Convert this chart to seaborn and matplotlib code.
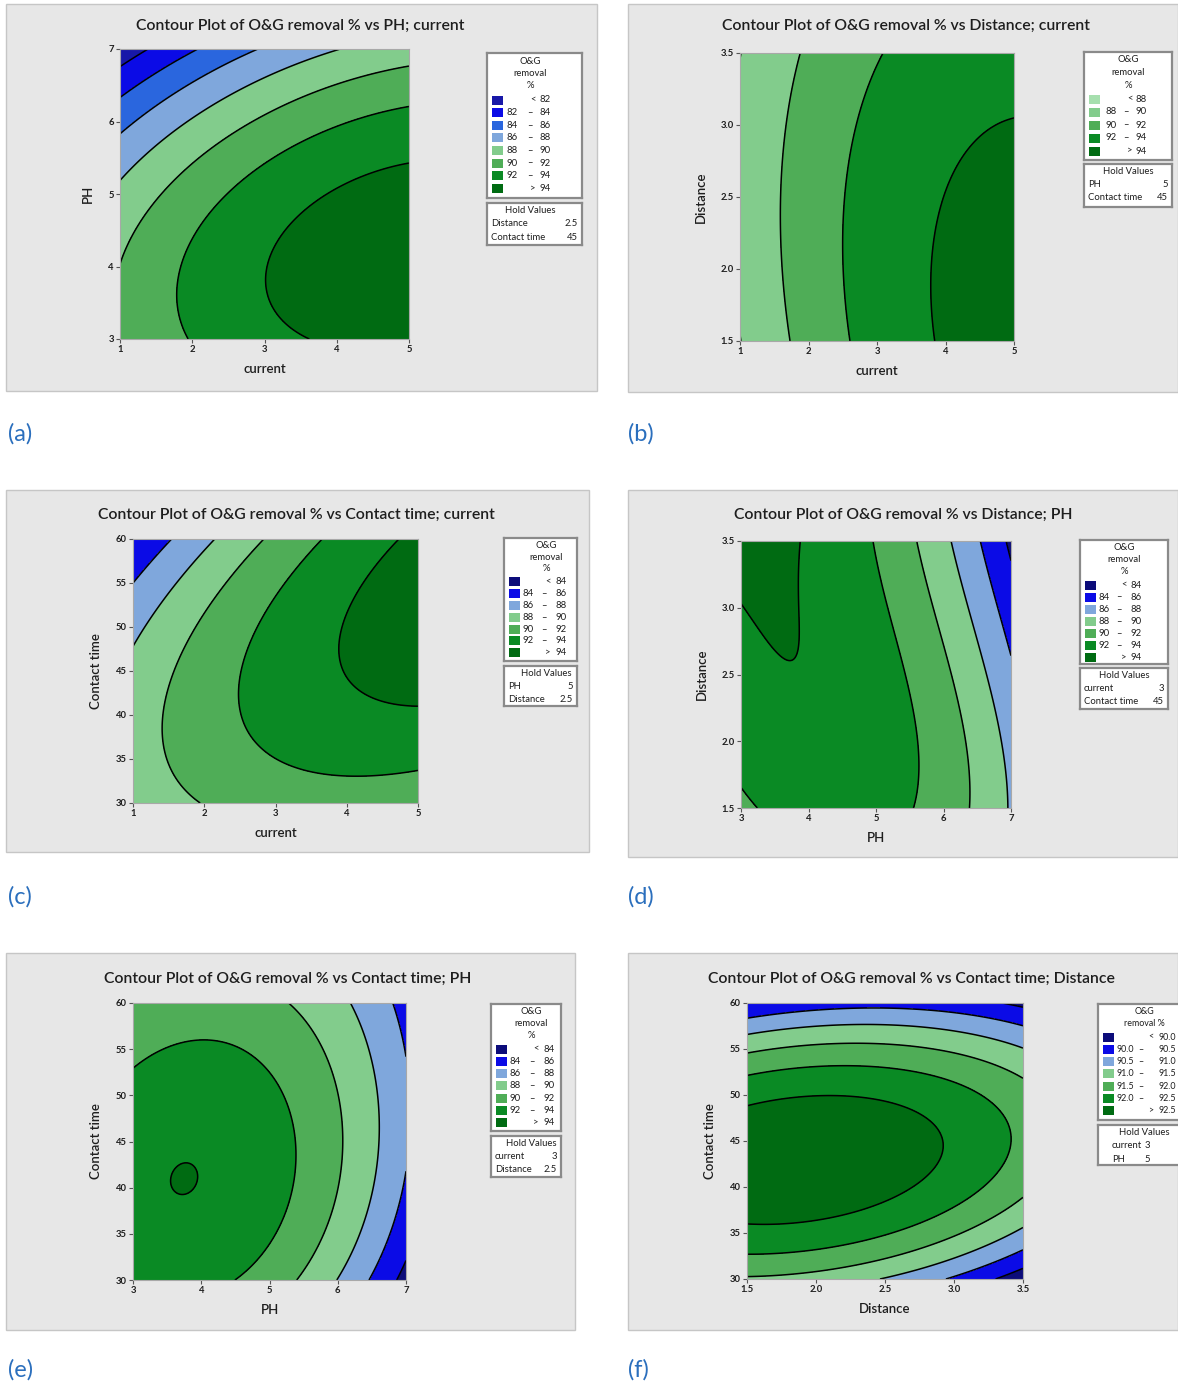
import numpy as np
import matplotlib
matplotlib.use("Agg")
import matplotlib.pyplot as plt
from matplotlib.patches import Rectangle
import seaborn as sns

sns.set_theme(style="white")
plt.rcParams['font.family'] = ['Lato', 'DejaVu Sans']

W, H = 1178, 1387

# ---- contour crossings: (x, y) -> removal level ----
# (a) PH vs current
a_current = [5, 4.37, 3.84, 3.36, 3.11, 3.74,
             5, 3.84, 3.05, 2.51, 1.98, 1.78, 1.89,
             1, 1.56, 2.25, 3.05, 4.11, 5,
             1, 1.98, 3.05, 4.0,
             1, 1.88, 2.87,
             1, 1.56, 2.09,
             1, 1.42, 1]
a_ph = [5.36, 5.27, 5.03, 4.52, 3.78, 3.0,
        6.21, 6.01, 5.69, 5.31, 4.48, 3.73, 3.0,
        4.04, 4.85, 5.50, 5.96, 6.48, 6.78,
        5.16, 5.96, 6.54, 7.0,
        5.82, 6.48, 7.0,
        6.34, 6.71, 7.0,
        6.78, 7.0, 7.0]
a_removal = [94] * 6 + [92] * 7 + [90] * 6 + [88] * 4 + [86] * 3 + [84] * 3 + [82] * 2 + [80.9]

# (b) Distance vs current
b_current = [1.88, 1.67, 1.61, 1.63, 1.72,
             3.12, 2.68, 2.53, 2.51, 2.61,
             5, 4.28, 3.97, 3.86, 3.81, 3.84,
             1, 1]
b_distance = [3.5, 3.0, 2.5, 2.0, 1.5,
              3.5, 3.0, 2.5, 2.0, 1.5,
              3.01, 2.87, 2.6, 2.25, 1.9, 1.5,
              3.48, 1.52]
b_removal = [90] * 5 + [92] * 5 + [94] * 6 + [88] * 2

# (c) Contact time vs current
c_current = [1.57, 1.0, 1.3,
             2.15, 1.57, 1.0,
             2.86, 2.31, 1.78, 1.49, 1.44, 1.57, 1.91,
             3.68, 3.15, 2.73, 2.54, 2.53, 2.62, 2.94, 3.63, 4.42, 5.0,
             4.66, 4.21, 4.0, 3.97, 4.08, 4.42, 5.0]
c_contact = [60, 55.2, 57.7,
             60, 54.2, 48.3,
             60, 55.0, 49.3, 42.9, 39.0, 34.2, 30,
             60, 56.1, 51.2, 46.6, 42.1, 38.3, 35.3, 33.0, 33.2, 33.5,
             60, 54.2, 49.7, 47.4, 44.0, 41.9, 41.2]
c_removal = [86] * 3 + [88] * 3 + [90] * 7 + [92] * 10 + [94] * 7

# (d) Distance vs PH
d_ph = [3.0, 3.39, 3.55, 3.71, 3.86, 3.92, 3.89, 3.86,
        4.96, 5.27, 5.48, 5.56, 5.58, 3.0, 3.21,
        5.60, 5.90, 6.22, 6.35, 6.38,
        6.10, 6.48, 6.74, 6.90, 6.95,
        6.53, 6.79, 7.0,
        6.95, 7.0]
d_distance = [3.01, 2.78, 2.71, 2.71, 2.78, 2.88, 3.13, 3.5,
              3.5, 2.88, 2.38, 1.89, 1.5, 1.67, 1.5,
              3.5, 2.88, 2.38, 1.89, 1.5,
              3.5, 2.88, 2.38, 1.89, 1.5,
              3.5, 2.88, 2.61,
              3.5, 3.37]
d_removal = [94] * 8 + [92] * 7 + [90] * 5 + [88] * 5 + [86] * 3 + [84] * 2

# (e) Contact time vs PH
e_ph = [3.52, 3.82, 3.67, 3.67, 3.67,
        3.0, 3.51, 4.10, 4.58, 5.07, 5.36, 5.34, 5.07, 4.49,
        5.31, 5.82, 6.06, 6.06, 5.87, 5.42, 3.05,
        6.19, 6.46, 6.58, 6.57, 6.41, 5.98,
        6.79, 7.0, 7.0, 6.44, 7.0,
        7.0, 6.87]
e_contact = [41.2, 41.2, 42.1, 39.8, 41.2,
             53.1, 55.3, 56.2, 55.3, 51.3, 45.2, 39.8, 35.1, 30,
             60, 53.9, 47.7, 43.4, 36.9, 30, 60,
             60, 54.9, 49.5, 42.3, 35.1, 30,
             60, 54.9, 42.3, 30, 48.6,
             32.5, 30]
e_removal = [94, 94, 94, 94, 94.05] + [92] * 9 + [90] * 7 + [88] * 6 + [86] * 4 + [86.35] + [84] * 2

# (f) Contact time vs Distance
f_distance = [1.5, 2.04, 2.91, 2.62, 2.16, 1.5,
              1.5, 1.98, 2.67, 3.18, 3.39, 3.31, 2.93, 2.16, 1.5,
              1.5, 2.16, 2.93, 3.5, 3.5, 2.93, 2.16, 1.5,
              1.5, 2.16, 2.93, 3.5, 3.5, 2.46,
              1.5, 2.5, 3.5, 3.5, 2.9,
              3.26, 3.5]
f_contact = [48.2, 49.9, 44.8, 40.4, 36.8, 36.2,
             52.6, 53.3, 52.0, 48.8, 45.0, 40.5, 36.2, 34.0, 32.7,
             54.8, 56.0, 55.0, 51.8, 39.2, 33.0, 31.0, 30.3,
             56.5, 57.5, 57.2, 55.3, 35.3, 30,
             58.3, 59.0, 57.8, 33.4, 30,
             30, 31.5]
f_removal = [92.5] * 6 + [92.0] * 9 + [91.5] * 8 + [91.0] * 6 + [90.5] * 5 + [90.0] * 2

# legend level boundaries
levels_a = [82, 84, 86, 88, 90, 92, 94]
levels_b = [88, 90, 92, 94]
levels_cde = [84, 86, 88, 90, 92, 94]
levels_f = [90.0, 90.5, 91.0, 91.5, 92.0, 92.5]

NAVY, BLUE, MIDBLUE, LBLUE = '#0c0c7a', '#0b0be6', '#2a66de', '#7fa7dc'
PALE, LGREEN, MGREEN, DGREEN, XGREEN = '#a6dfae', '#82cc8c', '#4fad57', '#0a8a24', '#006b12'
cols_a = ['#1818a8', BLUE, MIDBLUE, LBLUE, LGREEN, MGREEN, DGREEN, XGREEN]
cols_b = [PALE, LGREEN, MGREEN, DGREEN, XGREEN]
cols_cde = [NAVY, BLUE, LBLUE, LGREEN, MGREEN, DGREEN, XGREEN]

TXT = '#1e1e1e'
fig = plt.figure(figsize=(W / 100, H / 100), dpi=100)


def px_axes(x0, y0, x1, y1):
    return fig.add_axes([x0 / W, 1 - y1 / H, (x1 - x0) / W, (y1 - y0) / H])


def fit_surface(x, y, z, xr, yr, cubic=False):
    x = np.asarray(x, float)
    y = np.asarray(y, float)
    xm, xh = (xr[0] + xr[1]) / 2, (xr[1] - xr[0]) / 2
    ym, yh = (yr[0] + yr[1]) / 2, (yr[1] - yr[0]) / 2

    def design(xx, yy):
        u = (xx - xm) / xh
        v = (yy - ym) / yh
        terms = [np.ones_like(u), u, v, u * u, v * v, u * v]
        if cubic:
            terms += [u ** 3, v ** 3, u * u * v, u * v * v]
        return np.stack(terms, axis=-1)

    coef, *_ = np.linalg.lstsq(design(x, y), np.asarray(z, float), rcond=None)
    gx = np.linspace(xr[0], xr[1], 300)
    gy = np.linspace(yr[0], yr[1], 300)
    GX, GY = np.meshgrid(gx, gy)
    return GX, GY, design(GX, GY) @ coef


def fmt(v):
    return f"{v:.1f}" if isinstance(v, float) else str(v)


def boxed(x0, y0, x1, y1):
    b = px_axes(x0, y0, x1, y1)
    b.set_xlim(x0, x1)
    b.set_ylim(y1, y0)
    b.set_xticks([])
    b.set_yticks([])
    b.set_facecolor('white')
    for s in b.spines.values():
        s.set_color('#8a8a8a')
        s.set_linewidth(1.6)
    return b


def draw_panel(p):
    x0, y0, x1, y1 = p['panel']
    fig.patches.append(Rectangle((x0 / W, 1 - y1 / H), (x1 - x0) / W, (y1 - y0) / H,
                                 transform=fig.transFigure, facecolor='#e7e7e7',
                                 edgecolor='#c6c6c6', lw=1.0, zorder=-1))
    fig.text(p['label_xy'][0] / W, 1 - p['label_xy'][1] / H, p['label'],
             color='#2b6fbd', fontsize=17, ha='left', va='center')
    fig.text(p['title_xy'][0] / W, 1 - p['title_xy'][1] / H, p['title'],
             fontsize=11.3, fontweight='semibold', color=TXT, ha='center', va='center')

    ax = px_axes(*p['axes'])
    GX, GY, Z = fit_surface(p['x'], p['y'], p['z'], p['xr'], p['yr'], p.get('cubic', False))
    lv = p['levels']
    ax.contourf(GX, GY, Z, levels=[-1e9] + lv + [1e9], colors=p['colors'])
    ax.contour(GX, GY, Z, levels=lv, colors='black', linewidths=1.1)
    ax.set_xlim(*p['xr'])
    ax.set_ylim(*p['yr'])
    ax.set_xticks(p['xticks'])
    ax.set_yticks(p['yticks'])
    ax.set_xticklabels(p['xticklabels'])
    ax.set_yticklabels(p['yticklabels'])
    ax.tick_params(axis='both', direction='out', length=3, width=0.8, colors='#555555',
                   labelsize=6.8, labelcolor=TXT, pad=1.5, left=True, bottom=True)
    for t in ax.get_xticklabels() + ax.get_yticklabels():
        t.set_fontweight('bold')
    for s in ax.spines.values():
        s.set_color('#a8a8a8')
        s.set_linewidth(0.8)
    ax.set_xlabel(p['xlabel'], fontsize=9.5, fontweight='semibold', color=TXT, labelpad=6)
    ax.set_ylabel(p['ylabel'], fontsize=9.5, fontweight='semibold', color=TXT, labelpad=10)

    # legend box
    lx0, ly0, lx1, ly1 = p['legend']
    fs = p.get('legend_fs', 6.8)
    lg = boxed(lx0, ly0, lx1, ly1)
    cx = lx0 + p['title_cx']
    ty = ly0 + 8
    for line in p['legend_title']:
        lg.text(cx, ty, line, fontsize=fs, ha='center', va='center', color=TXT)
        ty += p['title_step']
    c1, cd, c3 = p['cols']
    ry = ly0 + p['row_start']
    n = len(p['colors'])
    for i, c in enumerate(p['colors']):
        lg.add_patch(Rectangle((lx0 + 5, ry - 4.5), 11, 9, facecolor=c, edgecolor='none'))
        if i == 0 or i == n - 1:
            sym = '<' if i == 0 else '>'
            val = lv[0] if i == 0 else lv[-1]
            lg.text(lx0 + p['sym_x'], ry, sym, fontsize=fs, ha='center', va='center', color=TXT)
            lg.text(lx0 + c3, ry, fmt(val), fontsize=fs, ha='right', va='center', color=TXT)
        else:
            lg.text(lx0 + c1, ry, fmt(lv[i - 1]), fontsize=fs, ha='right', va='center', color=TXT)
            lg.text(lx0 + cd, ry, '\u2013', fontsize=fs, ha='center', va='center', color=TXT)
            lg.text(lx0 + c3, ry, fmt(lv[i]), fontsize=fs, ha='right', va='center', color=TXT)
        ry += p['row_step']

    # hold values box
    hx0, hy0, hx1, hy1 = p['hold']
    hb = boxed(hx0, hy0, hx1, hy1)
    hb.text(lx0 + p['title_cx'], hy0 + 7.5, 'Hold Values', fontsize=6.8, ha='center',
            va='center', color=TXT)
    nx, vx = p['hold_x']
    yy = hy0 + 20.5
    for name, val in p['hold_rows']:
        hb.text(hx0 + nx, yy, name, fontsize=6.8, ha='left', va='center', color=TXT)
        hb.text(hx0 + vx, yy, val, fontsize=6.8, ha='right', va='center', color=TXT)
        yy += 13.5


ticks_1_5 = [1, 2, 3, 4, 5]
ticks_3_7 = [3, 4, 5, 6, 7]
ticks_dist = [1.5, 2.0, 2.5, 3.0, 3.5]
ticks_ct = [30, 35, 40, 45, 50, 55, 60]
lab_dist = ['1.5', '2.0', '2.5', '3.0', '3.5']
title3 = ['O&G', 'removal', '%']

panels = [
    dict(label='(a)', label_xy=(8, 434), panel=(6, 4, 597, 391), axes=(120, 49, 409, 339),
         title='Contour Plot of O&G removal % vs PH; current', title_xy=(300, 26),
         x=a_current, y=a_ph, z=a_removal, xr=(1, 5), yr=(3, 7), levels=levels_a, colors=cols_a,
         xticks=ticks_1_5, yticks=ticks_3_7, xticklabels=ticks_1_5, yticklabels=ticks_3_7,
         xlabel='current', ylabel='PH',
         legend=(487, 53, 582, 198), legend_title=title3, title_cx=43, title_step=12.5,
         row_start=47, row_step=12.6, cols=(31, 43, 64), sym_x=46,
         hold=(487, 203, 582, 245), hold_x=(4, 91),
         hold_rows=[('Distance', '2.5'), ('Contact time', '45')]),
    dict(label='(b)', label_xy=(628, 434), panel=(628, 4, 1178, 392), axes=(740, 53, 1014, 341),
         title='Contour Plot of O&G removal % vs Distance; current', title_xy=(906, 26),
         x=b_current, y=b_distance, z=b_removal, xr=(1, 5), yr=(1.5, 3.5), levels=levels_b, colors=cols_b,
         xticks=ticks_1_5, yticks=ticks_dist, xticklabels=ticks_1_5, yticklabels=lab_dist,
         xlabel='current', ylabel='Distance',
         legend=(1084, 52, 1172, 160), legend_title=title3, title_cx=44, title_step=12.5,
         row_start=47, row_step=13, cols=(33, 42, 63), sym_x=46,
         hold=(1084, 164, 1172, 207), hold_x=(4, 84),
         hold_rows=[('PH', '5'), ('Contact time', '45')]),
    dict(label='(c)', label_xy=(8, 897), panel=(6, 490, 589, 852), axes=(133, 539, 418, 803),
         title='Contour Plot of O&G removal % vs Contact time; current', title_xy=(296, 515),
         x=c_current, y=c_contact, z=c_removal, xr=(1, 5), yr=(30, 60), levels=levels_cde, colors=cols_cde,
         xticks=ticks_1_5, yticks=ticks_ct, xticklabels=ticks_1_5, yticklabels=ticks_ct,
         xlabel='current', ylabel='Contact time',
         legend=(504, 538, 577, 661), legend_title=title3, title_cx=42, title_step=11.5,
         row_start=44, row_step=11.8, cols=(30, 40, 63), sym_x=44,
         hold=(504, 666, 577, 706), hold_x=(4, 69),
         hold_rows=[('PH', '5'), ('Distance', '2.5')]),
    dict(label='(d)', label_xy=(628, 897), panel=(628, 490, 1178, 857), axes=(741, 541, 1011, 808),
         title='Contour Plot of O&G removal % vs Distance; PH', title_xy=(903, 515),
         x=d_ph, y=d_distance, z=d_removal, xr=(3, 7), yr=(1.5, 3.5), levels=levels_cde, colors=cols_cde,
         cubic=True,
         xticks=ticks_3_7, yticks=ticks_dist, xticklabels=ticks_3_7, yticklabels=lab_dist,
         xlabel='PH', ylabel='Distance',
         legend=(1080, 540, 1168, 664), legend_title=title3, title_cx=44, title_step=11.5,
         row_start=45, row_step=12.1, cols=(30, 39, 62), sym_x=44,
         hold=(1080, 668, 1168, 709), hold_x=(4, 84),
         hold_rows=[('current', '3'), ('Contact time', '45')]),
    dict(label='(e)', label_xy=(8, 1370), panel=(6, 953, 575, 1330), axes=(133, 1003, 406, 1280),
         title='Contour Plot of O&G removal % vs Contact time; PH', title_xy=(288, 979),
         x=e_ph, y=e_contact, z=e_removal, xr=(3, 7), yr=(30, 60), levels=levels_cde, colors=cols_cde,
         cubic=True,
         xticks=ticks_3_7, yticks=ticks_ct, xticklabels=ticks_3_7, yticklabels=ticks_ct,
         xlabel='PH', ylabel='Contact time',
         legend=(491, 1004, 561, 1131), legend_title=title3, title_cx=40, title_step=11.5,
         row_start=45, row_step=12.3, cols=(30, 41, 64), sym_x=45,
         hold=(491, 1136, 561, 1177), hold_x=(4, 66),
         hold_rows=[('current', '3'), ('Distance', '2.5')]),
    dict(label='(f)', label_xy=(628, 1370), panel=(628, 953, 1178, 1330), axes=(747, 1003, 1023, 1279),
         title='Contour Plot of O&G removal % vs Contact time; Distance', title_xy=(911, 979),
         x=f_distance, y=f_contact, z=f_removal, xr=(1.5, 3.5), yr=(30, 60), levels=levels_f, colors=cols_cde,
         xticks=ticks_dist, yticks=ticks_ct, xticklabels=lab_dist, yticklabels=ticks_ct,
         xlabel='Distance', ylabel='Contact time',
         legend=(1098, 1004, 1185, 1120), legend_title=['O&G', 'removal %'], title_cx=46, title_step=12,
         row_start=33, row_step=12.3, cols=(36, 43, 78), sym_x=53, legend_fs=6.4,
         hold=(1098, 1125, 1185, 1165), hold_x=(14, 52),
         hold_rows=[('current', '3'), ('PH', '5')]),
]

for p in panels:
    draw_panel(p)

fig.savefig('out.png', dpi=100, facecolor='white')
